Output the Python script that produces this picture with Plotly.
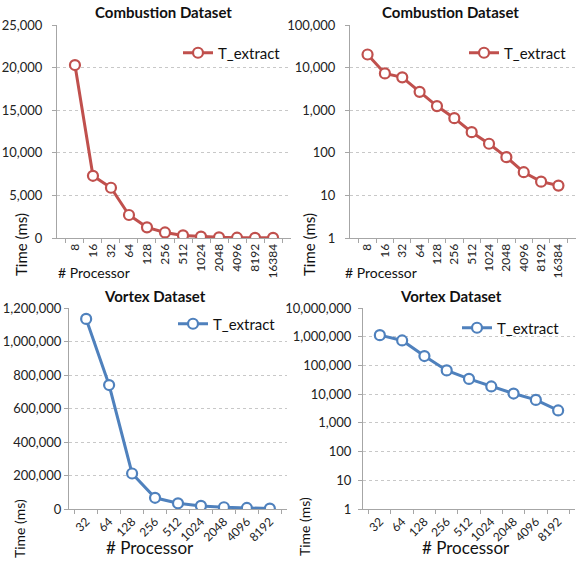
import plotly.graph_objects as go

comb_procs = ["8", "16", "32", "64", "128", "256", "512", "1024", "2048", "4096", "8192", "16384"]
comb_times = [20300, 7300, 5900, 2700, 1250, 650, 305, 163, 79, 35, 21, 17]

vort_procs = ["32", "64", "128", "256", "512", "1024", "2048", "4096", "8192"]
vort_times = [1135000, 740000, 212000, 67000, 34000, 18500, 10500, 6300, 2700]

RED = "#C0504D"
BLUE = "#4F81BD"
FONT = "Lato"
W, H = 576, 569

fig = go.Figure()

def px(x): return min(max(x / W, 0), 1)
def py(y): return min(max(1 - y / H, 0), 1)

panels = [
    # axis id, x, y, colour, x-range px, y-range px, legend, legend pos, tick angle, label standoff
    ("", comb_procs, comb_times, RED, (57, 291), (25, 238), "legend", (178, 53), -90, 7),
    ("2", comb_procs, comb_times, RED, (350, 576), (25, 238), "legend2", (464, 53), -90, 7),
    ("3", vort_procs, vort_times, BLUE, (69, 287), (308, 509), "legend3", (173, 324), -45, 0),
    ("4", vort_procs, vort_times, BLUE, (363, 575), (308, 509), "legend4", (457, 328), -45, 4),
]

for i, (ax, xs, ys, col, xd, yd, lg, lpos, ang, so) in enumerate(panels):
    fig.add_trace(go.Scatter(
        x=xs, y=ys, name="T_extract", mode="lines+markers",
        line=dict(color=col, width=3),
        marker=dict(symbol="circle", size=10, color="white", line=dict(color=col, width=2.2)),
        xaxis="x" + ax, yaxis="y" + ax, legend=lg, showlegend=True,
    ))
    xa = dict(domain=[px(xd[0]), px(xd[1])], type="category", anchor="y" + ax,
              showline=True, linecolor="#A6A6A6", linewidth=1, showgrid=False,
              ticks="outside", ticklen=4, tickcolor="#A6A6A6", tickson="boundaries",
              tickangle=ang, tickfont=dict(family=FONT, size=12, color="#222"),
              automargin=False)
    ya = dict(domain=[py(yd[1]), py(yd[0])], anchor="x" + ax,
              showline=True, linecolor="#A6A6A6", linewidth=1,
              showgrid=True, gridcolor="#C8C8C8", griddash="dot", gridwidth=1,
              ticks="outside", ticklen=4, tickcolor="#A6A6A6", zeroline=False,
              ticklabelstandoff=so,
              tickformat=",", tickfont=dict(family=FONT, size=13, color="#222"),
              automargin=False)
    if i == 0:
        ya.update(range=[0, 25000], dtick=5000)
    elif i == 1:
        ya.update(type="log", range=[0, 5], dtick=1)
    elif i == 2:
        ya.update(range=[0, 1200000], dtick=200000)
    else:
        ya.update(type="log", range=[0, 7], dtick=1)
    fig.update_layout(**{"xaxis" + ax: xa, "yaxis" + ax: ya})
    fig.update_layout(**{lg: dict(x=px(lpos[0]), y=py(lpos[1]), xanchor="left", yanchor="middle",
                                  bgcolor="rgba(0,0,0,0)", font=dict(family=FONT, size=15, color="#111"),
                                  itemwidth=30)})

anns = [
    ("Combustion Dataset", 163, 12, 0, 15, True),
    ("Combustion Dataset", 450, 12, 0, 15, True),
    ("Vortex Dataset", 155, 296, 0, 15, True),
    ("Vortex Dataset", 451, 296, 0, 15, True),
    ("Time (ms)", 21, 245, -90, 15, False),
    ("Time (ms)", 309, 245, -90, 15, False),
    ("Time (ms)", 19, 529, -90, 14, False),
    ("Time (ms)", 304, 527, -90, 14, False),
    ("# Processor", 94, 272, 0, 14, False),
    ("# Processor", 381, 272, 0, 14, False),
    ("# Processor", 150, 547, 0, 17, False),
    ("# Processor", 466, 547, 0, 17, False),
]
for t, x, y, a, s, b in anns:
    fig.add_annotation(text=f"<b>{t}</b>" if b else t, x=px(x), y=py(y), xref="paper", yref="paper",
                       showarrow=False, textangle=a, xanchor="center", yanchor="middle",
                       font=dict(family=FONT, size=s, color="#111"))

fig.update_layout(width=W, height=H, margin=dict(l=0, r=0, t=0, b=0, autoexpand=False),
                  paper_bgcolor="white", plot_bgcolor="white")
fig.write_html("out.html", config={"displayModeBar": False},
               post_script="document.body.style.margin='0';document.body.style.overflow='hidden';")
